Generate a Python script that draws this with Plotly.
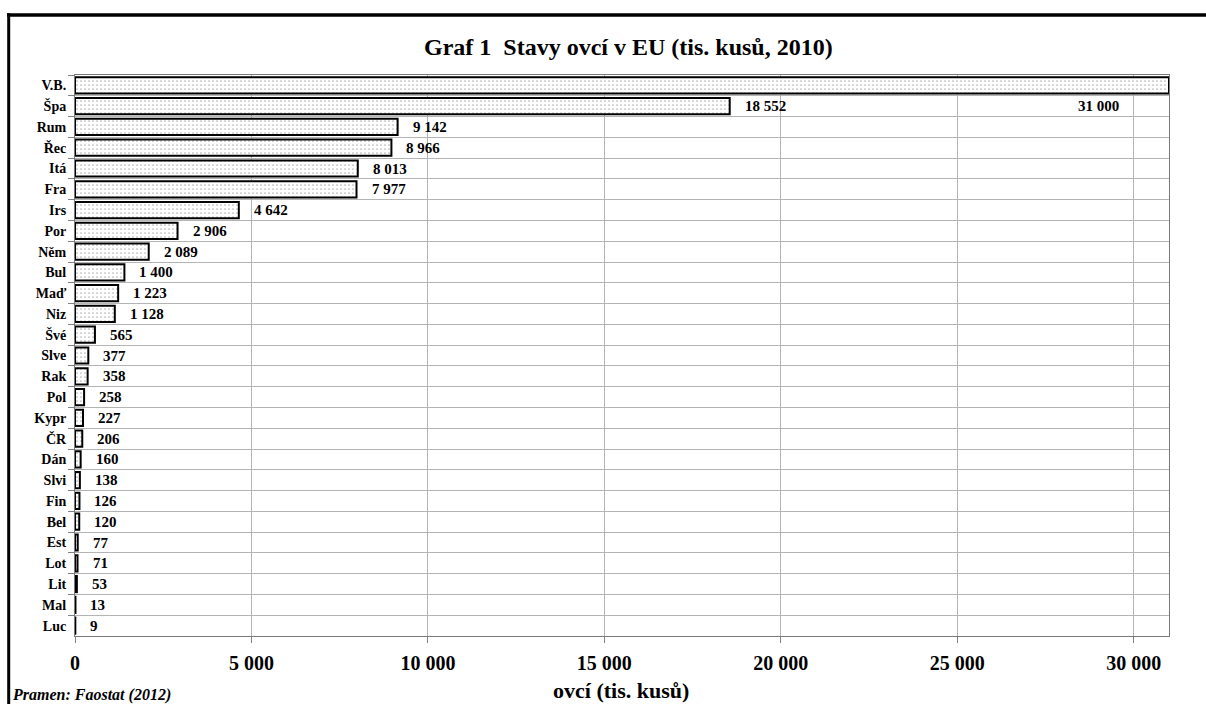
import plotly.graph_objects as go

countries = ["V.B.", "Špa", "Rum", "Řec", "Itá", "Fra", "Irs", "Por", "Něm", "Bul",
             "Maď", "Niz", "Švé", "Slve", "Rak", "Pol", "Kypr", "ČR", "Dán", "Slvi",
             "Fin", "Bel", "Est", "Lot", "Lit", "Mal", "Luc"]
sheep = [31000, 18552, 9142, 8966, 8013, 7977, 4642, 2906, 2089, 1400,
         1223, 1128, 565, 377, 358, 258, 227, 206, 160, 138,
         126, 120, 77, 71, 53, 13, 9]
x_ticks = [0, 5000, 10000, 15000, 20000, 25000, 30000]
x_ticktext = ["0", "5 000", "10 000", "15 000", "20 000", "25 000", "30 000"]

title_text = "Graf 1\u00a0 Stavy ovcí v EU (tis. kusů, 2010)"
x_title = "ovcí (tis. kusů)"
source_text = "Pramen: Faostat (2012)"

SERIF = "Liberation Serif, Times New Roman, serif"


def fmt(v):
    return f"{v:,}".replace(",", " ")


fig = go.Figure()
fig.add_trace(go.Bar(
    x=sheep, y=countries, orientation="h",
    marker=dict(color="white",
                line=dict(color="black", width=2),
                pattern=dict(shape=".", size=4, solidity=0.15,
                             fgcolor="#6a6a6a", bgcolor="white")),
    hoverinfo="x+y", showlegend=False,
))

annotations = []
for c, v in zip(countries[1:], sheep[1:]):
    annotations.append(dict(x=v, y=c, xref="x", yref="y", text=fmt(v),
                            xanchor="left", yanchor="middle", xshift=13, showarrow=False,
                            font=dict(family=SERIF, size=15, color="black", weight="bold")))
# label of the largest bar, drawn inside the plot on the second row as in the original
annotations.append(dict(x=sheep[0], y=countries[1], xref="x", yref="y", text=fmt(sheep[0]),
                        xanchor="right", yanchor="middle", xshift=-48, showarrow=False,
                        font=dict(family=SERIF, size=15, color="black", weight="bold")))

L, R, T, B = 75, 1169, 75, 636
W, H = 1206, 704
pw, ph = R - L, B - T


def px(xp):
    return (xp - L) / pw


def py(yp):
    return (B - yp) / ph


annotations.append(dict(x=px(628), y=py(47), xref="paper", yref="paper", text=title_text,
                        xanchor="center", yanchor="middle", showarrow=False,
                        font=dict(family=SERIF, size=24, color="black", weight="bold")))
annotations.append(dict(x=px(621), y=py(690), xref="paper", yref="paper", text=x_title,
                        xanchor="center", yanchor="middle", showarrow=False,
                        font=dict(family=SERIF, size=22, color="black", weight="bold")))
annotations.append(dict(x=px(10), y=py(695), xref="paper", yref="paper", text=source_text,
                        xanchor="left", yanchor="middle", showarrow=False,
                        font=dict(family=SERIF, size=16, color="black", weight="bold",
                                  style="italic")))

shapes = [
    dict(type="line", xref="paper", yref="paper", x0=px(7), x1=px(1210), y0=py(15), y1=py(15),
         line=dict(color="black", width=3.5)),
    dict(type="line", xref="paper", yref="paper", x0=px(8.7), x1=px(8.7), y0=py(13.3), y1=py(710),
         line=dict(color="black", width=3)),
]

fig.update_layout(
    width=W, height=H,
    margin=dict(l=L, r=W - R, t=T, b=H - B, pad=0),
    paper_bgcolor="white", plot_bgcolor="white",
    bargap=0.22,
    annotations=annotations, shapes=shapes,
    font=dict(family=SERIF, color="black"),
)
fig.update_xaxes(
    range=[0, 31000], tickvals=x_ticks, ticktext=x_ticktext,
    showgrid=True, gridcolor="#b4b4b4", gridwidth=1,
    ticks="outside", ticklen=6, tickcolor="#808080",
    showline=True, linecolor="#7a7a7a", linewidth=1, mirror=True,
    tickfont=dict(family=SERIF, size=20, color="black", weight="bold"),
    ticklabelstandoff=3, zeroline=False,
)
fig.update_yaxes(
    autorange="reversed", tickson="boundaries",
    showgrid=True, gridcolor="#b4b4b4", gridwidth=1,
    ticks="outside", ticklen=6, tickcolor="#808080",
    showline=True, linecolor="#7a7a7a", linewidth=1, mirror=True,
    tickfont=dict(family=SERIF, size=14, color="black", weight="bold"),
    ticklabelstandoff=5,
)

fig.write_html("out.html")
